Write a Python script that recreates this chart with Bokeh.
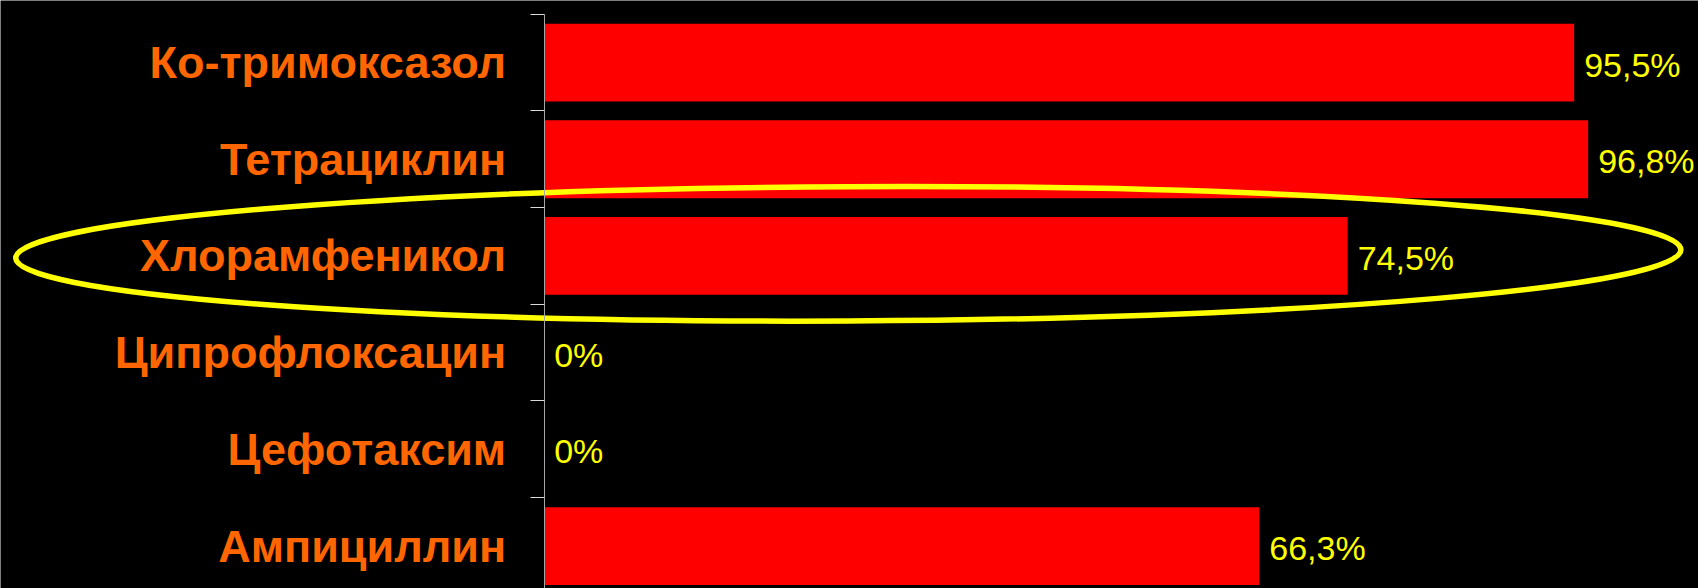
from bokeh.plotting import figure
from bokeh.models import Range1d, FixedTicker, ColumnDataSource
from bokeh.core.properties import value
from bokeh.embed import file_html
from bokeh.resources import INLINE

# ---- data ----
categories = ["Ко-тримоксазол", "Тетрациклин", "Хлорамфеникол",
              "Ципрофлоксацин", "Цефотаксим", "Ампициллин"]
values = [95.5, 96.8, 74.5, 0, 0, 66.3]

def fmt(v):
    return "0%" if v == 0 else ("%.1f" % v).replace(".", ",") + "%"

labels = [fmt(v) for v in values]
positions = [i + 0.5 for i in range(len(categories))]

src = ColumnDataSource(dict(y=positions, v=values, lab=labels, cat=categories))

W, H = 1698, 588
p = figure(width=W, height=H, output_backend="svg", toolbar_location=None,
           x_range=Range1d(-50.41, 107.03), y_range=Range1d(5.939, -0.1417),
           x_axis_location=None, min_border=0,
           background_fill_color="black", border_fill_color="black")
p.outline_line_color = None
p.grid.visible = False

ax = p.yaxis[0]
ax.fixed_location = 0
ax.bounds = (0, 5.939)
ax.ticker = FixedTicker(ticks=positions, minor_ticks=list(range(0, 6)))
ax.major_label_overrides = {pos: c for pos, c in zip(positions, categories)}
ax.axis_line_color = "#A6A6A6"
ax.axis_line_width = 1
ax.major_tick_line_color = None
ax.major_tick_out = 0
ax.major_tick_in = 0
ax.minor_tick_line_color = "#D9D9D9"
ax.minor_tick_out = 14
ax.minor_tick_in = 0
ax.major_label_standoff = 24
ax.major_label_text_font = "Liberation Sans"
ax.major_label_text_font_style = "bold"
ax.major_label_text_font_size = "45px"
ax.major_label_text_color = "#FF6600"

p.hbar(y="y", left=0, right="v", height=0.805, source=src,
       fill_color="#FF0000", line_color=None)

p.text(x="v", y="y", text="lab", source=src, x_offset=10, y_offset=2,
       text_baseline="middle", text_align="left",
       text_font=value("Liberation Sans"), text_font_size="34px",
       text_color="#FFFF00")

# highlight ellipse around Хлорамфеникол
p.ellipse(x=28.2, y=2.478, width=154.4, height=1.389, angle=0.005,
          fill_color=None, line_color="#FFFF00", line_width=5.5)

open("out.html", "w").write(file_html(p, INLINE))
